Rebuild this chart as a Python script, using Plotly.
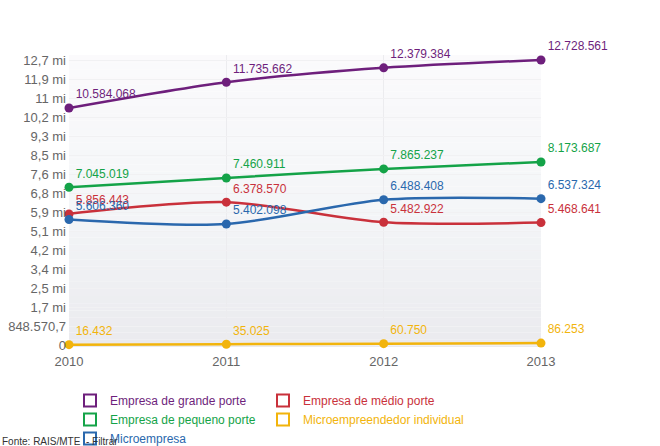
import plotly.graph_objects as go

years = [2010, 2011, 2012, 2013]
grande = [10584068, 11735662, 12379384, 12728561]
medio = [5856443, 6378570, 5482922, 5468641]
pequeno = [7045019, 7460911, 7865237, 8173687]
mei = [16432, 35025, 60750, 86253]
micro = [5606360, 5402098, 6488408, 6537324]

names = ["Empresa de grande porte", "Empresa de médio porte", "Empresa de pequeno porte",
         "Microempreendedor individual", "Microempresa"]
colors = ["#6e1f7c", "#c9313b", "#14a348", "#f2b40c", "#2a68ad"]
legend_ids = ["legend", "legend2", "legend", "legend2", "legend"]
series = [grande, medio, pequeno, mei, micro]

ytick_labels = ["0", "848.570,7", "1,7 mi", "2,5 mi", "3,4 mi", "4,2 mi", "5,1 mi", "5,9 mi",
                "6,8 mi", "7,6 mi", "8,5 mi", "9,3 mi", "10,2 mi", "11 mi", "11,9 mi", "12,7 mi"]
ymax = max(grande)
step = ymax / 15
ytick_vals = [step * k for k in range(len(ytick_labels))]


def br(v):
    return f"{v:,}".replace(",", ".")


fig = go.Figure()
for name, col, vals in zip(names, colors, series):
    fig.add_trace(go.Scatter(
        x=years, y=vals, mode="lines+markers+text",
        line=dict(color=col, width=2.5, shape="spline", smoothing=0.8),
        marker=dict(color=col, size=9),
        text=[br(v) for v in vals], textposition="top right",
        textfont=dict(color=col, size=12, family="Liberation Sans, Arial"),
        cliponaxis=False, showlegend=False, name=name,
    ))
for name, col, lg in zip(names, colors, legend_ids):
    fig.add_trace(go.Scatter(
        x=[None], y=[None], mode="markers",
        marker=dict(symbol="square-open", size=16, color=col, line=dict(width=2.5, color=col)),
        name=f"<span style='color:{col}'>{name}</span>", showlegend=True, legend=lg,
    ))

# vertical gradient background for plot area
top = (251, 250, 252)
mid = (244, 246, 248)
bot = (234, 234, 238)
n = 40
shapes = []
for i in range(n):
    t = (i + 0.5) / n
    if t < 0.5:
        a, b, f = bot, mid, t / 0.5
    else:
        a, b, f = mid, top, (t - 0.5) / 0.5
    c = tuple(round(a[j] + (b[j] - a[j]) * f) for j in range(3))
    shapes.append(dict(type="rect", xref="paper", yref="paper", x0=0, x1=1,
                       y0=i / n, y1=(i + 1) / n, line=dict(width=0),
                       fillcolor=f"rgb{c}", layer="below"))

legend_common = dict(orientation="v", xref="container", yref="container",
                     xanchor="left", yanchor="top", font=dict(size=12),
                     itemsizing="constant", tracegroupgap=0, bgcolor="rgba(0,0,0,0)")

fig.update_layout(
    width=660, height=446,
    margin=dict(l=69, r=119, t=55, b=99, autoexpand=False),
    paper_bgcolor="white", plot_bgcolor="rgba(0,0,0,0)",
    font=dict(family="Liberation Sans, Arial", size=12, color="#666"),
    shapes=shapes,
    xaxis=dict(range=[2010, 2013], tickvals=years, ticktext=[str(y) for y in years],
               showgrid=True, gridcolor="#ececef", zeroline=False, showline=False,
               tickfont=dict(size=13, color="#666"), ticklabelstandoff=5, tickangle=0),
    yaxis=dict(range=[-89000, 12952000], tickvals=ytick_vals, ticktext=ytick_labels,
               showgrid=True, gridcolor="#f1f1f3", zeroline=False, showline=False,
               tickfont=dict(size=13, color="#666"), ticklabelstandoff=2),
    legend=dict(x=70 / 660, y=1 - 386 / 446, **legend_common),
    legend2=dict(x=263 / 660, y=1 - 386 / 446, **legend_common),
    annotations=[dict(text="Fonte: RAIS/MTE  - Filtrar", xref="paper", yref="paper",
                      x=-69 / 472, y=(347 - 441) / 292, xanchor="left", yanchor="middle",
                      showarrow=False, font=dict(size=10, color="#333"))],
)

fig.write_html("out.html", config={"displayModeBar": False},
               post_script="document.body.style.margin='0';")
